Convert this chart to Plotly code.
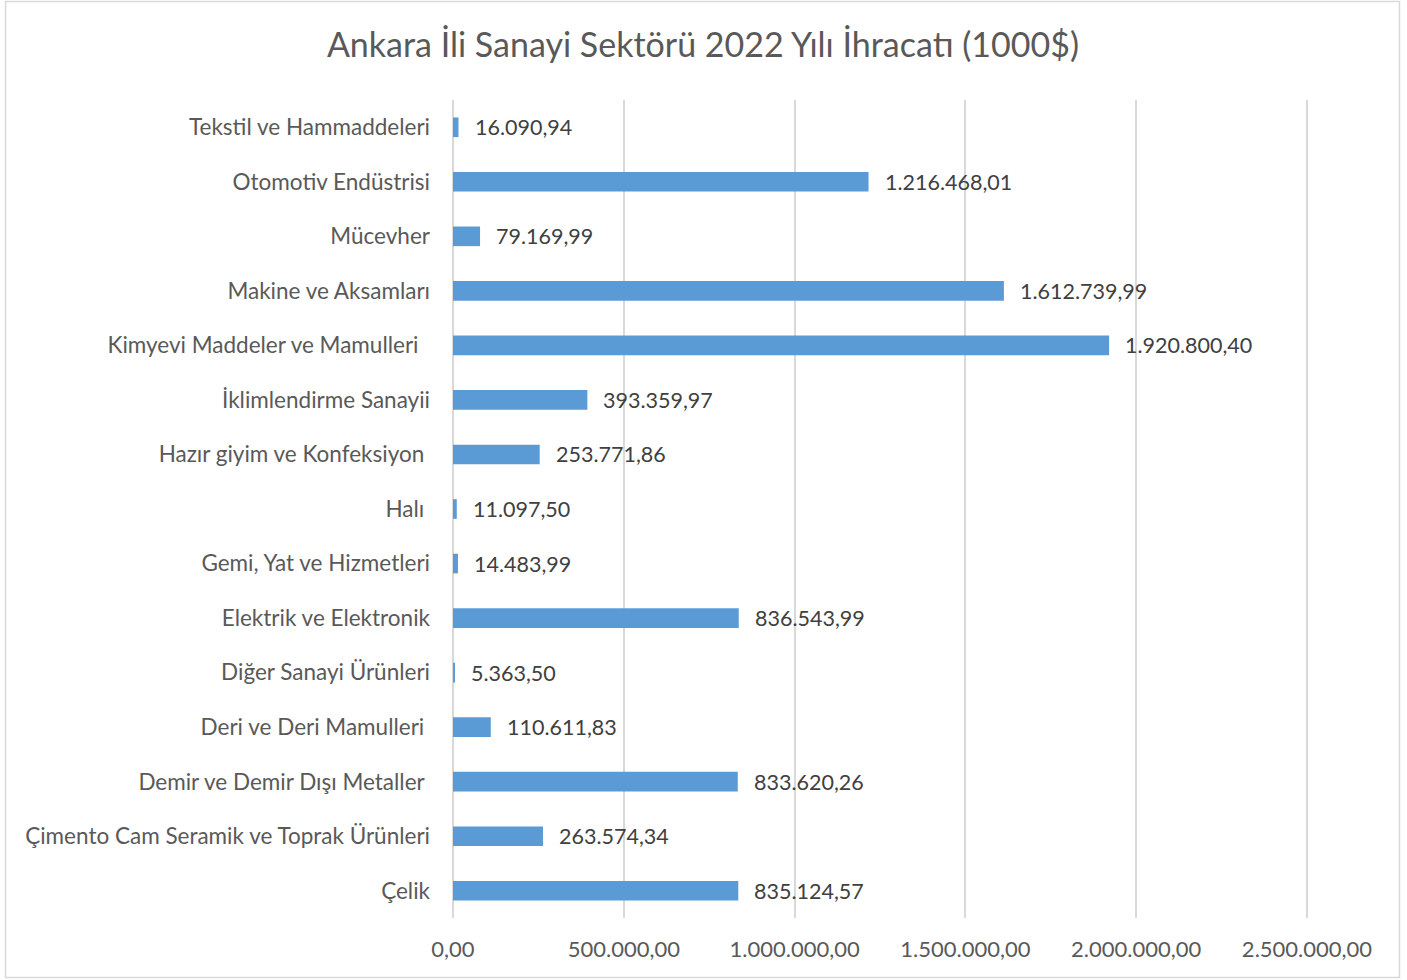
import plotly.graph_objects as go

categories = [
    "Çelik",
    "Çimento Cam Seramik ve Toprak Ürünleri",
    "Demir ve Demir Dışı Metaller ",
    "Deri ve Deri Mamulleri ",
    "Diğer Sanayi Ürünleri",
    "Elektrik ve Elektronik",
    "Gemi, Yat ve Hizmetleri",
    "Halı ",
    "Hazır giyim ve Konfeksiyon ",
    "İklimlendirme Sanayii",
    "Kimyevi Maddeler ve Mamulleri  ",
    "Makine ve Aksamları",
    "Mücevher",
    "Otomotiv Endüstrisi",
    "Tekstil ve Hammaddeleri",
]
values = [
    835124.57,
    263574.34,
    833620.26,
    110611.83,
    5363.50,
    836543.99,
    14483.99,
    11097.50,
    253771.86,
    393359.97,
    1920800.40,
    1612739.99,
    79169.99,
    1216468.01,
    16090.94,
]
x_ticks = [0, 500000, 1000000, 1500000, 2000000, 2500000]

title_text = "Ankara İli Sanayi Sektörü 2022 Yılı İhracatı (1000$)"

FONT = "Lato, Open Sans, sans-serif"
GREY = "#595959"
FS = 22

fig = go.Figure()
fig.add_trace(go.Bar(
    y=categories,
    x=values,
    orientation="h",
    marker=dict(color="#5B9BD5", line=dict(width=0)),
    width=0.36,
    hoverinfo="x+y",
))


def tr_fmt(v):
    return format(v, ",.2f").replace(",", "X").replace(".", ",").replace("X", ".")


for c, v in zip(categories, values):
    fig.add_annotation(
        x=v, y=c, xref="x", yref="y",
        text=tr_fmt(v),
        showarrow=False, xanchor="left", xshift=14,
        font=dict(family=FONT, size=21.5, color="#404040"),
    )

XMAX = 2503000
pw = 854 * XMAX / 2500000
fig.update_layout(
    width=1407,
    height=980,
    margin=dict(l=453, r=1407 - 453 - pw, t=100, b=62),
    paper_bgcolor="white",
    plot_bgcolor="white",
    separators=",.",
    showlegend=False,
    title=dict(
        text=title_text,
        x=(703 - 453) / pw, xref="paper", xanchor="center",
        y=1 - 45 / 980, yref="container", yanchor="middle",
        font=dict(family=FONT, size=34, color=GREY),
    ),
    font=dict(family=FONT, size=FS, color=GREY),
)

fig.update_xaxes(
    range=[0, XMAX],
    tickvals=x_ticks,
    tickformat=",.2f",
    showgrid=True, gridcolor="#D9D9D9", gridwidth=1.5,
    zeroline=True, zerolinecolor="#D9D9D9", zerolinewidth=1.5,
    showline=False,
    ticks="",
    ticklabelstandoff=16,
    tickfont=dict(family=FONT, size=FS, color=GREY),
    fixedrange=True,
)
fig.update_yaxes(
    type="category",
    categoryorder="array",
    categoryarray=categories,
    range=[-0.5, len(categories) - 0.5],
    showgrid=False,
    showline=False,
    ticks="",
    ticklabelstandoff=22,
    tickfont=dict(family=FONT, size=22.5, color=GREY),
    fixedrange=True,
)

# outer chart border
ph = 818
fig.add_shape(
    type="rect", xref="paper", yref="paper",
    x0=(5.5 - 453) / pw, x1=(1399.5 - 453) / pw,
    y0=(918 - 977.5) / ph, y1=(918 - 1.5) / ph,
    line=dict(color="#D9D9D9", width=1.5),
    fillcolor="rgba(0,0,0,0)",
    layer="below",
)

fig.write_html(
    "out.html",
    config={"displayModeBar": False},
    post_script="document.body.style.margin='0';document.body.style.overflow='hidden';",
)
